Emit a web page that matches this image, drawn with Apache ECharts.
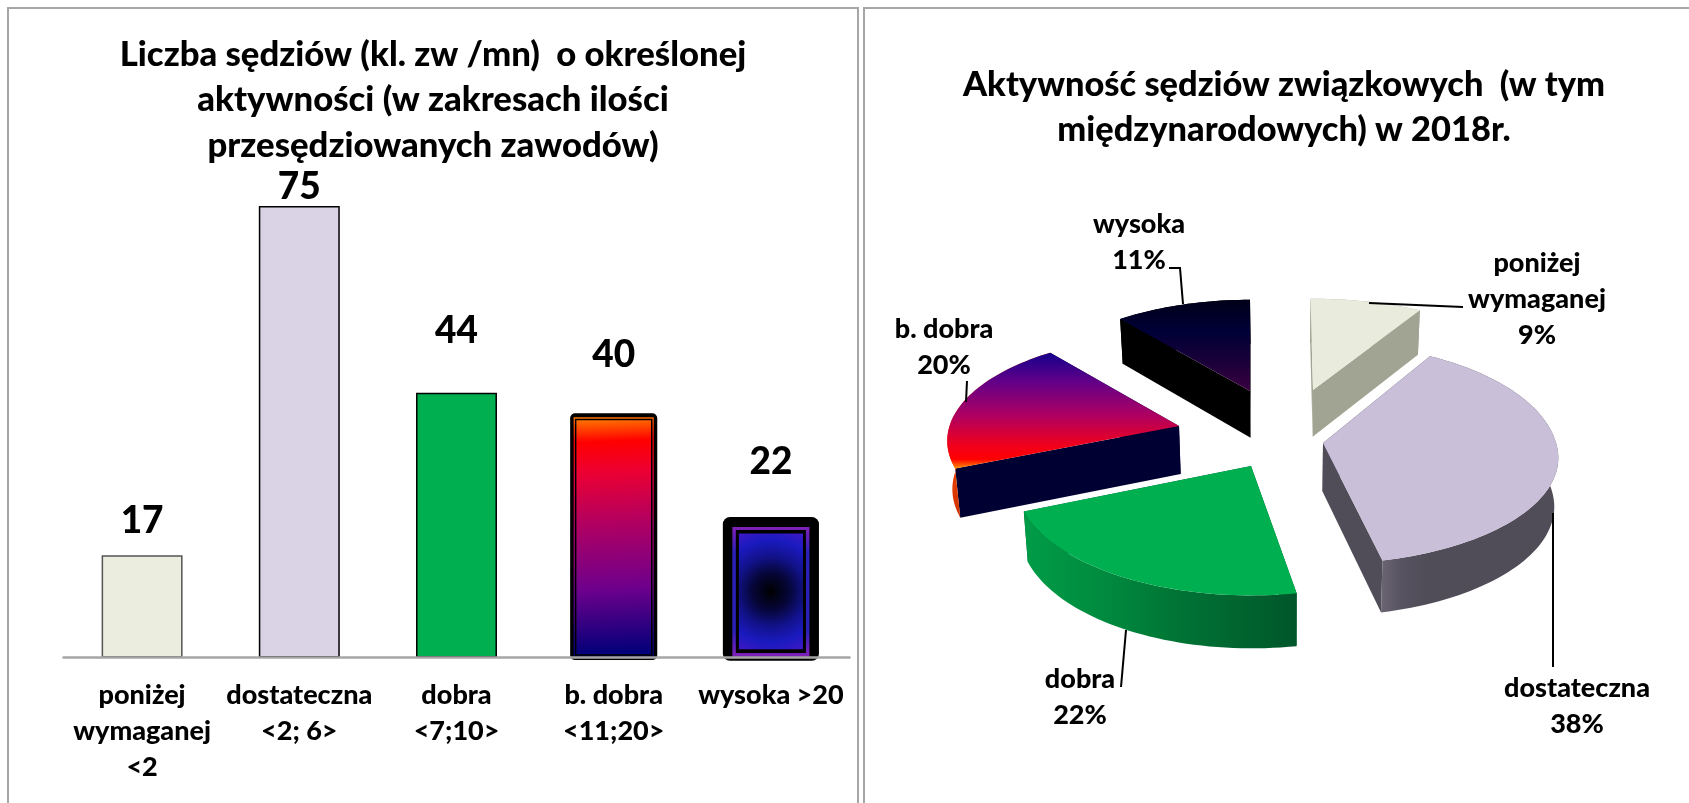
<!DOCTYPE html>
<html>
<head>
<meta charset="utf-8">
<title>Sędziowie 2018</title>
<script src="https://cdn.jsdelivr.net/npm/echarts@6/dist/echarts.min.js"></script>
<style>
  html, body { margin: 0; padding: 0; background: #fff; }
  #main { width: 1689px; height: 803px; }
</style>
</head>
<body>
<div id="main"></div>
<script>
// dane
const categories = ['poniżej\nwymaganej\n<2', 'dostateczna\n<2; 6>', 'dobra\n<7;10>', 'b. dobra\n<11;20>', 'wysoka >20'];
const counts = [17, 75, 44, 40, 22];
const pieNames = ['poniżej\nwymaganej', 'dostateczna', 'dobra', 'b. dobra', 'wysoka'];

const FONT = 'Lato, "Noto Sans", sans-serif';
const WEIGHT = 900;
const total = counts.reduce((a, b) => a + b, 0);

// ---- wyglad slupkow ----
const barColors = ['#EBEEDE', '#DAD2E5', '#00AF50', '#000', '#000'];
const barBorders = ['#555', '#000', '#000', '#000', '#000'];
const barLabelOffsets = [[0, -11], [0, 4], [0, -38], [0, -38], [0, -40]];

const hotGradient = new echarts.graphic.LinearGradient(0, 0, 0.12, 1, [
  { offset: 0, color: '#FF7A00' },
  { offset: 0.1, color: '#FF0000' },
  { offset: 0.22, color: '#EE0030' },
  { offset: 0.45, color: '#B00062' },
  { offset: 0.72, color: '#6E008C' },
  { offset: 1, color: '#000078' }
]);
const coreGradient = new echarts.graphic.RadialGradient(0.5, 0.5, 1, [
  { offset: 0, color: '#000000' },
  { offset: 0.3, color: '#06063C' },
  { offset: 0.55, color: '#12128C' },
  { offset: 0.8, color: '#1A1AC0' },
  { offset: 1, color: '#3A18C4' }
]);
const rimGradient = new echarts.graphic.LinearGradient(0, 0, 0, 1, [
  { offset: 0, color: '#8020B8' },
  { offset: 0.2, color: '#2A20B8' },
  { offset: 0.8, color: '#2A20B8' },
  { offset: 1, color: '#8020B8' }
]);
// warstwy obramowania: [lewo/prawo, gora, dol] - przesuniecie wzgledem prostokata slupka
const barFrames = {
  3: [
    { inset: [-3, -3.4, -2.6], fill: '#000', r: 5 },
    { inset: [0.5, 0.4, 1], fill: hotGradient },
    { inset: [2.5, 2.8, 2.5], fill: hotGradient, stroke: '#000', lineWidth: 1.5 }
  ],
  4: [
    { inset: [-7.5, -8, -3.2], fill: '#000', r: 7 },
    { inset: [2, 2, 0.8], fill: rimGradient },
    { inset: [5.5, 5, 4.5], fill: '#000' },
    { inset: [8.5, 8.3, 8.2], fill: coreGradient }
  ]
};

// ---- wyglad tortu ----
const PIE = { cx: 1270, cy: 430, rx: 233, ry: 104, k: 0.14, depth: 48 };
const explode = [[43, -40], [53, 13], [-19, 36], [-91, -4], [-20, -39]];
// drobne korekty perspektywy kazdego wycinka (skala i obrot krawedzi w stopniach)
const sliceGeom = [
  { rx: 1, front: 1, back: 1, nudge: [-0.7, 0] },
  { rx: 1, front: 1, back: 1.09, nudge: [0, 0] },
  { rx: 1, front: 1.07, back: 1, nudge: [3, 0] },
  { rx: 0.985, front: 1, back: 1, nudge: [0, 1.5] },
  { rx: 0.96, front: 1, back: 1, nudge: [0, 0] }
];
const vGrad = (stops) => new echarts.graphic.LinearGradient(0, 0, 0, 1, stops.map(c => ({ offset: c[0], color: c[1] })));
const hGrad = (stops) => new echarts.graphic.LinearGradient(0, 0, 1, 0, stops.map(c => ({ offset: c[0], color: c[1] })));
const sliceStyles = [
  { top: '#E9ECDC', wall: '#A1A492', rim: '#A1A492' },
  { top: '#C9BFD9', wall: '#514D58', rim: hGrad([[0, '#6B6572'], [0.12, '#575260'], [0.25, '#514D58'], [1, '#514D58']]) },
  { top: '#00AF50', wall: '#005A2B', rim: hGrad([[0, '#009C47'], [0.3, '#008A3F'], [0.55, '#007535'], [1, '#00562A']]) },
  {
    top: vGrad([[0, '#14008C'], [0.25, '#620088'], [0.55, '#B00060'], [0.8, '#F0001C'], [0.92, '#FF0000'], [1, '#FF9000']]),
    wall: '#000033',
    rim: vGrad([[0, '#FF5000'], [0.6, '#F04800'], [1, '#D03000']])
  },
  {
    top: vGrad([[0, '#000018'], [0.35, '#000038'], [0.7, '#1C0038'], [1, '#3A0040']]),
    wall: '#000000',
    rim: '#000000'
  }
];
// podpisy tortu: srodek tekstu i linia odniesienia
const pieLabelPos = [[1537, 299], [1577, 706], [1080, 697], [944, 347], [1139, 242]];
const pieLeaders = [
  [[1369, 303], [1463, 307]],
  [[1553, 513], [1553, 667]],
  [[1126, 630], [1121, 687]],
  [[967, 381], [966, 402]],
  [[1169, 268], [1180, 268], [1183, 304]]
];

function project(centre, angle, geo) {
  const u = Math.sin(angle), v = -Math.cos(angle);
  const den = 1 - PIE.k * v;
  const sy = v < 0 ? geo.back : geo.front;
  return [centre[0] + PIE.rx * geo.rx * u / den, centre[1] + PIE.ry * sy * v / den];
}
function lower(p) {
  return [p[0] + (1290 - p[0]) * 0.015, p[1] + PIE.depth + (p[1] - 430) * 0.03];
}

function renderSlice(params, api) {
  const i = params.dataIndex;
  const geo = sliceGeom[i];
  const before = counts.slice(0, i).reduce((a, b) => a + b, 0);
  const a0 = before / total * Math.PI * 2 + geo.nudge[0] * Math.PI / 180;
  const a1 = (before + api.value(0)) / total * Math.PI * 2 + geo.nudge[1] * Math.PI / 180;
  const centre = [PIE.cx + explode[i][0], PIE.cy + explode[i][1]];
  const arc = [];
  const steps = Math.ceil((a1 - a0) / 0.03);
  for (let s = 0; s <= steps; s++) arc.push(project(centre, a0 + (a1 - a0) * s / steps, geo));
  const style = sliceStyles[i];
  const poly = (points, fill) => ({
    type: 'polygon',
    shape: { points },
    style: { fill, stroke: null }
  });
  const first = arc[0], last = arc[arc.length - 1];
  const children = [
    poly([centre, first, lower(first), lower(centre)], style.wall),
    poly([centre, last, lower(last), lower(centre)], style.wall),
    poly(arc.concat(arc.map(lower).reverse()), style.rim),
    poly([centre].concat(arc), style.top)
  ];
  children.push({
    type: 'polyline',
    shape: { points: pieLeaders[i] },
    style: { stroke: '#000', lineWidth: 2, fill: null }
  });
  const percent = Math.round(api.value(0) / total * 100);
  children.push({
    type: 'text',
    style: {
      x: pieLabelPos[i][0],
      y: pieLabelPos[i][1],
      text: pieNames[i] + '\n' + percent + '%',
      align: 'center',
      verticalAlign: 'middle',
      fontFamily: FONT,
      fontWeight: WEIGHT,
      fontSize: 27,
      lineHeight: 36,
      fill: '#000'
    }
  });
  return { type: 'group', children };
}

function renderFrame(params, api) {
  const layers = barFrames[params.dataIndex];
  if (!layers) return null;
  const pos = api.coord([params.dataIndex, api.value(1)]);
  const base = api.coord([params.dataIndex, 0]);
  const half = api.size([1, 0])[0] * 81 / 157 / 2;
  return {
    type: 'group',
    children: layers.map(l => ({
      type: 'rect',
      shape: {
        x: pos[0] - half + l.inset[0],
        y: pos[1] + l.inset[1],
        width: 2 * (half - l.inset[0]),
        height: base[1] - pos[1] - l.inset[1] - l.inset[2],
        r: l.r || 0
      },
      style: { fill: l.fill, stroke: l.stroke || null, lineWidth: l.lineWidth || 0 }
    }))
  };
}

const titleStyle = { fontFamily: FONT, fontWeight: WEIGHT, fontSize: 34.7, lineHeight: 45.5, color: '#000' };

const chart = echarts.init(document.getElementById('main'), null, { renderer: 'canvas' });
chart.setOption({
  animation: false,
  backgroundColor: '#fff',
  title: [
    {
      text: 'Liczba sędziów (kl. zw /mn)  o określonej\naktywności (w zakresach ilości\nprzesędziowanych zawodów)',
      left: 428, top: 27, textAlign: 'center', textStyle: titleStyle
    },
    {
      text: 'Aktywność sędziów związkowych  (w tym\nmiędzynarodowych) w 2018r.',
      left: 1279, top: 57, textAlign: 'center', textStyle: Object.assign({}, titleStyle, { fontSize: 34.4 })
    }
  ],
  graphic: [
    { type: 'rect', z: -1, shape: { x: 8, y: 8, width: 850, height: 820 }, style: { fill: '#fff', stroke: '#A6A6A6', lineWidth: 2 } },
    { type: 'rect', z: -1, shape: { x: 864, y: 8, width: 850, height: 820 }, style: { fill: '#fff', stroke: '#A6A6A6', lineWidth: 2 } }
  ],
  grid: { left: 63.5, width: 786, top: 176, bottom: 145.5, containLabel: false },
  xAxis: {
    type: 'category',
    data: categories,
    z: 6,
    axisLine: { lineStyle: { color: '#A6A6A6', width: 2.5 } },
    axisTick: { show: false },
    axisLabel: {
      interval: 0,
      margin: 20,
      fontFamily: FONT,
      fontWeight: WEIGHT,
      fontSize: 27,
      lineHeight: 36,
      color: '#000'
    }
  },
  yAxis: { type: 'value', min: 0, max: 80, show: false, splitLine: { show: false } },
  series: [
    {
      type: 'bar',
      barWidth: '51.5%',
      data: counts.map((v, i) => ({
        value: v,
        itemStyle: { color: barColors[i], borderColor: barBorders[i] },
        label: { offset: barLabelOffsets[i] }
      })),
      itemStyle: { borderWidth: 1.5 },
      label: {
        show: true,
        position: 'top',
        distance: 5,
        fontFamily: FONT,
        fontWeight: WEIGHT,
        fontSize: 37,
        color: '#000'
      }
    },
    {
      type: 'custom',
      coordinateSystem: 'cartesian2d',
      z: 3,
      data: counts.map((v, i) => [i, v]),
      encode: { x: 0, y: 1 },
      renderItem: renderFrame
    },
    {
      type: 'custom',
      coordinateSystem: 'none',
      z: 4,
      data: counts,
      renderItem: renderSlice
    }
  ]
});
</script>
</body>
</html>
